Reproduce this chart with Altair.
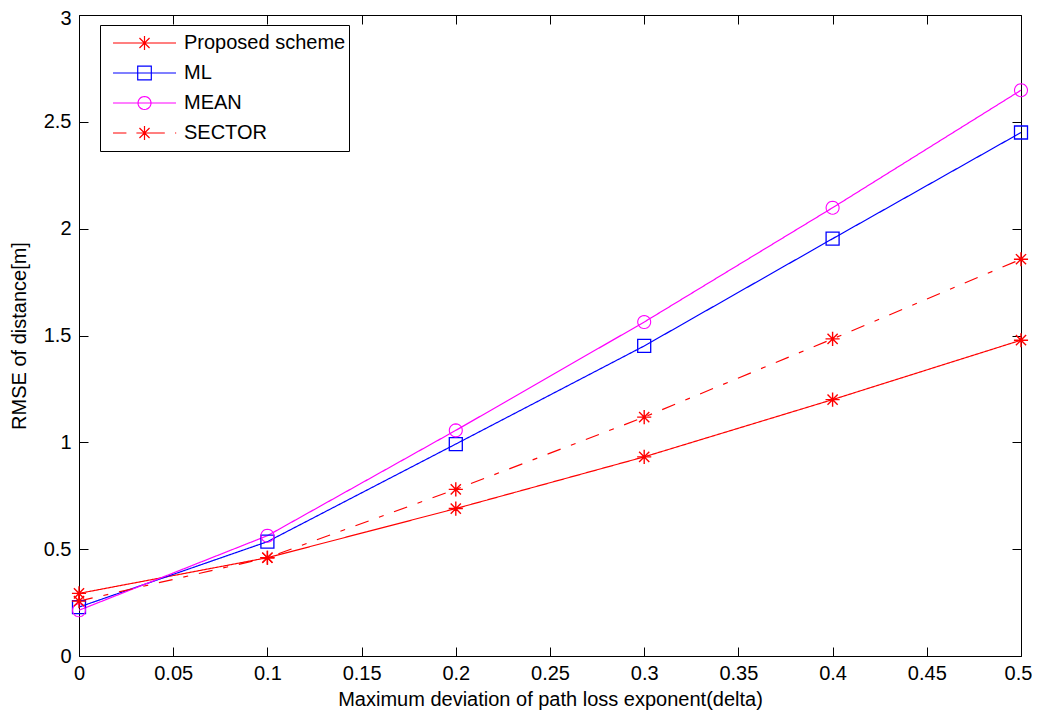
import math
import altair as alt
import pandas as pd

# ---- data ----
delta = [0.0, 0.1, 0.2, 0.3, 0.4, 0.5]
proposed = [0.293, 0.46, 0.69, 0.932, 1.20, 1.478]
ml = [0.229, 0.535, 0.992, 1.451, 1.953, 2.45]
mean = [0.214, 0.563, 1.056, 1.563, 2.098, 2.648]
sector = [0.257, 0.46, 0.78, 1.118, 1.484, 1.857]

series_names = ["Proposed scheme", "ML", "MEAN", "SECTOR"]
series_values = [proposed, ml, mean, sector]
series_colors = ["#ff0000", "#0000ff", "#ff00ff", "#ff0000"]

x_ticks = [0, 0.05, 0.1, 0.15, 0.2, 0.25, 0.3, 0.35, 0.4, 0.45, 0.5]
y_ticks = [0, 0.5, 1, 1.5, 2, 2.5, 3]

rows = []
for name, vals in zip(series_names, series_values):
    for xv, yv in zip(delta, vals):
        rows.append({"series": name, "delta": xv, "rmse": yv})
df = pd.DataFrame(rows)

FONT = "Liberation Sans"
W, H = 942, 641
TICK = 9

# ---- marker shapes (custom SVG paths in unit box) ----
def star(cx=0.0, s=1.0):
    d = 0.72 * s
    return (f"M{cx},{-s}L{cx},{s}M{cx - s},0L{cx + s},0"
            f"M{cx - d},{-d}L{cx + d},{d}M{cx - d},{d}L{cx + d},{-d}")

def square(cx=0.0, s=1.0):
    return f"M{cx - s},{-s}L{cx + s},{-s}L{cx + s},{s}L{cx - s},{s}Z"

def circle(cx=0.0, s=1.0, n=24):
    pts = []
    for k in range(n):
        a = 2 * math.pi * k / n
        pts.append(f"{cx + s * math.cos(a):.4f},{s * math.sin(a):.4f}")
    return "M" + "L".join(pts) + "Z"

plot_shapes = [star(), square(), circle(), star()]
plot_sizes = [200, 169, 169, 200]
plot_sw = [1.4, 1.3, 1.1, 1.4]
dashes = [[1, 0], [1, 0], [1, 0], [14, 11, 5, 11]]

# legend symbols: line + marker in one path
LS = 76.0
r = LS / 2
L0, L1, MC = -0.763, 0.895, 0.066
ms = 7.0 / r
line = f"M{L0},0L{L1},0"
leg_paths = [
    line + star(MC, ms),
    line + square(MC, 6.8 / r),
    line + circle(MC, 6.5 / r),
    f"M{L0},0L{-0.41},0M{-0.147},0L{0.6},0M{0.87},0L{0.9},0" + star(MC, ms),
]

base = alt.Chart(df)
xscale = alt.Scale(domain=[0, 0.5], nice=False, zero=False)
yscale = alt.Scale(domain=[0, 3], nice=False, zero=False)

axis_common = dict(tickSize=TICK, offset=-TICK, domain=False, grid=False,
                   tickColor="black", tickWidth=1, labelFlush=False, labelOverlap=False,
                   labelFont=FONT, titleFont=FONT, labelFontSize=20, titleFontSize=20,
                   labelColor="black", titleColor="black", titleFontWeight="normal")

x_main = alt.Axis(orient="bottom", values=x_ticks, format="~g",
                  title="Maximum deviation of path loss exponent(delta)",
                  labelPadding=7, titlePadding=6,
                  labelOffset={"condition": {"test": "datum.value >= 0.5", "value": -3}, "value": 0},
                  **axis_common)
y_main = alt.Axis(orient="left", values=y_ticks, format="~g", title="RMSE of distance[m]",
                  labelPadding=8, titlePadding=14,
                  labelOffset={"condition": {"test": "datum.value >= 3", "value": 3}, "value": 0},
                  **axis_common)
x_top = alt.Axis(orient="top", values=x_ticks, labels=False, title=None, **axis_common)
y_right = alt.Axis(orient="right", values=y_ticks, labels=False, title=None, **axis_common)

layers = []
for i, name in enumerate(series_names):
    if i == 0:
        xa, ya = x_main, y_main
    elif i == 1:
        xa, ya = x_top, y_right
    else:
        xa, ya = None, None
    ln = base.transform_filter(alt.datum.series == name).mark_line(
        color=series_colors[i], strokeWidth=1.2, strokeDash=dashes[i]
    ).encode(
        x=alt.X("delta:Q", scale=xscale, axis=xa),
        y=alt.Y("rmse:Q", scale=yscale, axis=ya),
    )
    layers.append(ln)

for i, name in enumerate(series_names):
    pt = base.transform_filter(alt.datum.series == name).mark_point(
        shape=plot_shapes[i], size=plot_sizes[i], filled=False,
        color=series_colors[i], strokeWidth=plot_sw[i], opacity=1
    ).encode(
        x=alt.X("delta:Q", scale=xscale, axis=None),
        y=alt.Y("rmse:Q", scale=yscale, axis=None),
    )
    layers.append(pt)

legend_layer = base.transform_filter("datum.delta > 100").mark_point(
    filled=False, size=LS * LS, strokeWidth=1.2, opacity=1
).encode(
    color=alt.Color("series:N", scale=alt.Scale(domain=series_names, range=series_colors),
                    legend=alt.Legend(orient="none", legendX=21, legendY=10, title=None,
                                      strokeColor="black", fillColor="white", padding=3,
                                      symbolSize=LS * LS, symbolStrokeWidth=1.2,
                                      clipHeight=30, rowPadding=0, labelOffset=3,
                                      labelExpr="datum.label + '\u00a0\u00a0'",
                                      labelFont=FONT, labelFontSize=20, labelColor="black",
                                      labelLimit=400, symbolOpacity=1)),
    shape=alt.Shape("series:N", scale=alt.Scale(domain=series_names, range=leg_paths)),
)
layers.append(legend_layer)

chart = alt.layer(*layers).resolve_axis(x="independent", y="independent").properties(
    width=W, height=H,
    background="white",
    autosize=alt.AutoSizeParams(type="none"),
    padding={"left": 71, "top": 7, "right": 11, "bottom": 55},
).configure_view(stroke="black", strokeWidth=1)

chart.save("out.html", embed_options={"renderer": "svg", "actions": False})
